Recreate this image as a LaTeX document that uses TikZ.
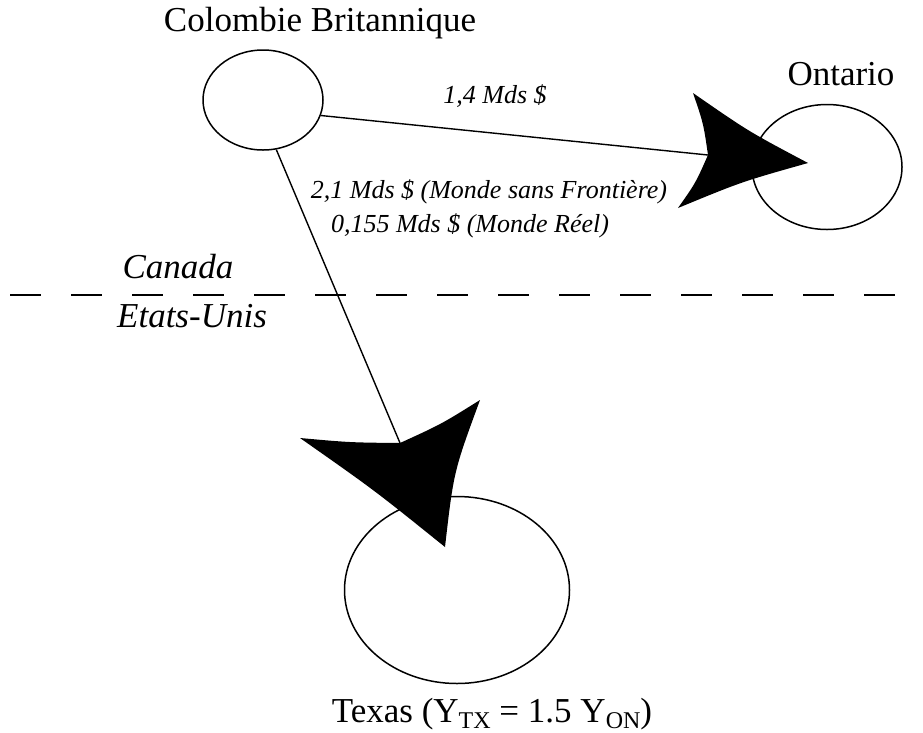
\documentclass[tikz,border=0pt]{standalone}
\usepackage{fontspec}
\setmainfont{Liberation Serif}
\usetikzlibrary{shapes.geometric}
\newcommand{\subtx}[1]{\raisebox{-6pt}{\fontsize{24}{24}\selectfont #1}}
\begin{document}
\begin{tikzpicture}[x=1pt,y=-1pt,
  region/.style={draw, ellipse, line width=1.5pt, inner sep=0pt},
  flow/.style={line width=1.4pt},
  head/.style={fill=black, draw=none},
  bigtxt/.style={font=\fontsize{35}{40}\selectfont, inner sep=0pt, anchor=base},
  flowtxt/.style={font=\fontsize{26}{30}\selectfont\itshape, inner sep=0pt, anchor=base},
  border/.style={line width=2.2pt, dash pattern=on 31pt off 30pt}]
\useasboundingbox (0,0) rectangle (923,732);

% regions
\node[region, minimum width=120pt, minimum height=100pt] (bc) at (263,100) {};
\node[region, minimum width=150pt, minimum height=125pt] (on) at (827,167) {};
\node[region, minimum width=225pt, minimum height=187pt] (tx) at (457,590) {};

% labels
\node[bigtxt] (bcl) at (320,31) {Colombie Britannique};
\node[bigtxt] (onl) at (841,85) {Ontario};
\node[bigtxt] (txl) at (492,722) {Texas (Y\subtx{TX} = 1.5 Y\subtx{ON})};
\node[flowtxt] (f1) at (495,103) {1,4 Mds \$};
\node[flowtxt] (f2) at (489,198) {2,1 Mds \$ (Monde sans Frontière)};
\node[flowtxt] (f3) at (470,232) {0,155 Mds \$ (Monde Réel)};
\node[bigtxt, font=\fontsize{35}{40}\selectfont\itshape] (ca) at (178,278) {Canada};
\node[bigtxt, font=\fontsize{35}{40}\selectfont\itshape] (us) at (192,327) {Etats-Unis};

% border
\coordinate (bl) at (10,295);
\coordinate (br) at (923,295);
\draw[border] (bl) -- (br);

% connectors
\coordinate (onN) at (708,155);
\coordinate (txN) at (400,443);
\draw[flow] (bc.-15) -- (onN);
\draw[flow] (bc.-75) -- (txN);

% arrowheads
\fill[head] (808,163) .. controls (748.4,131.4) .. (693,93)
  .. controls (703.4,123.3) .. (onN)
  .. controls (695.6,183) .. (678,208)
  .. controls (741.7,181.7) .. cycle;
\fill[head] (445,547) .. controls (374.3,490.1) .. (300,438)
  .. controls (349.9,442.5) .. (txN)
  .. controls (441.4,424.1) .. (480,400)
  .. controls (453.7,471.4) .. cycle;
\end{tikzpicture}
\end{document}
